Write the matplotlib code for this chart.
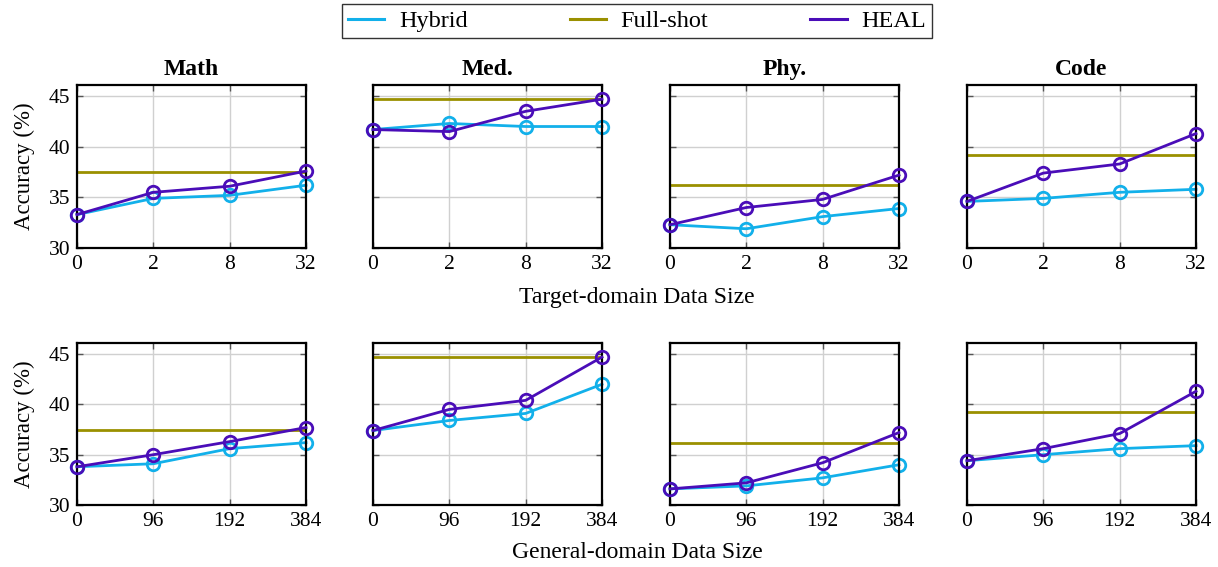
import numpy as np
import matplotlib
matplotlib.use("Agg")
import matplotlib.pyplot as plt
from matplotlib.lines import Line2D

plt.rcParams['font.family'] = ['Liberation Serif', 'DejaVu Serif']
plt.rcParams['mathtext.fontset'] = 'stix'

domains = ['Math', 'Med.', 'Phy.', 'Code']
target_sizes = ['0', '2', '8', '32']
general_sizes = ['0', '96', '192', '384']

# top row: target-domain data size
hybrid_target = [
    [33.3, 34.9, 35.2, 36.2],
    [41.7, 42.3, 42.0, 42.0],
    [32.3, 31.9, 33.1, 33.9],
    [34.6, 34.9, 35.5, 35.8],
]
heal_target = [
    [33.3, 35.5, 36.1, 37.6],
    [41.7, 41.5, 43.5, 44.7],
    [32.3, 34.0, 34.8, 37.2],
    [34.6, 37.4, 38.3, 41.3],
]

# bottom row: general-domain data size
hybrid_general = [
    [33.8, 34.1, 35.6, 36.2],
    [37.4, 38.4, 39.1, 42.0],
    [31.6, 31.9, 32.7, 34.0],
    [34.4, 35.0, 35.6, 35.9],
]
heal_general = [
    [33.8, 35.0, 36.3, 37.7],
    [37.4, 39.5, 40.4, 44.7],
    [31.6, 32.2, 34.2, 37.2],
    [34.4, 35.6, 37.1, 41.3],
]

full_shot = [37.5, 44.75, 36.2, 39.2]

c_hybrid = '#12B0EA'
c_full = '#9A9000'
c_heal = '#4A0DB8'

fig = plt.figure(figsize=(12.18, 5.67), dpi=100)

lefts = [77, 373, 670, 967]
W, H = 1218, 567
rows = [(85, 248), (343, 505)]

for r, (top, bot) in enumerate(rows):
    sizes = target_sizes if r == 0 else general_sizes
    hyb = hybrid_target if r == 0 else hybrid_general
    heal = heal_target if r == 0 else heal_general
    for c, dom in enumerate(domains):
        ax = fig.add_axes([lefts[c] / W, 1 - bot / H, 229 / W, (bot - top) / H])
        x = np.arange(len(sizes))
        ax.plot(x, hyb[c], color=c_hybrid, lw=2, marker='o', ms=9,
                mfc='none', mec=c_hybrid, mew=2, zorder=3, clip_on=False)
        ax.plot(x, np.full(len(x), full_shot[c]), color=c_full, lw=2, zorder=3)
        ax.plot(x, heal[c], color=c_heal, lw=2, marker='o', ms=9,
                mfc='none', mec=c_heal, mew=2, zorder=6, clip_on=False)
        ax.set_xlim(0, 3)
        ax.set_ylim(30, 46.1)
        ax.set_xticks(x)
        ax.set_xticklabels(sizes)
        ax.set_yticks([30, 35, 40, 45])
        ax.grid(True, color='#d0d0d0', lw=1)
        ax.set_axisbelow(True)
        ax.tick_params(direction='in', length=4, width=1, color='#555555',
                       labelsize=15.5, top=True, right=True, pad=5)
        for s in ax.spines.values():
            s.set_linewidth(1.6)
            s.set_zorder(5)
        if c == 0:
            ax.set_ylabel('Accuracy (%)', fontsize=16.5, labelpad=10)
        else:
            ax.set_yticklabels([])
        if r == 0:
            ax.set_title(dom, fontsize=17, fontweight='bold', pad=7)

fig.text(637 / W, 1 - 297 / H, 'Target-domain Data Size', ha='center', va='center', fontsize=17)
fig.text(637 / W, 1 - 552 / H, 'General-domain Data Size', ha='center', va='center', fontsize=17)

handles = [Line2D([], [], color=c_hybrid, lw=2.2, label='Hybrid'),
           Line2D([], [], color=c_full, lw=2.2, label='Full-shot'),
           Line2D([], [], color=c_heal, lw=2.2, label='HEAL')]
leg = fig.legend(handles=handles, loc='center', bbox_to_anchor=(637 / W, 1 - 21 / H),
                 ncol=3, fontsize=17.5, frameon=True, fancybox=False, edgecolor='black',
                 handlelength=1.5, columnspacing=4.2, borderpad=0.25, handletextpad=0.6,
                 borderaxespad=0)
leg.get_frame().set_linewidth(1.0)

fig.savefig('out.png', dpi=100)
